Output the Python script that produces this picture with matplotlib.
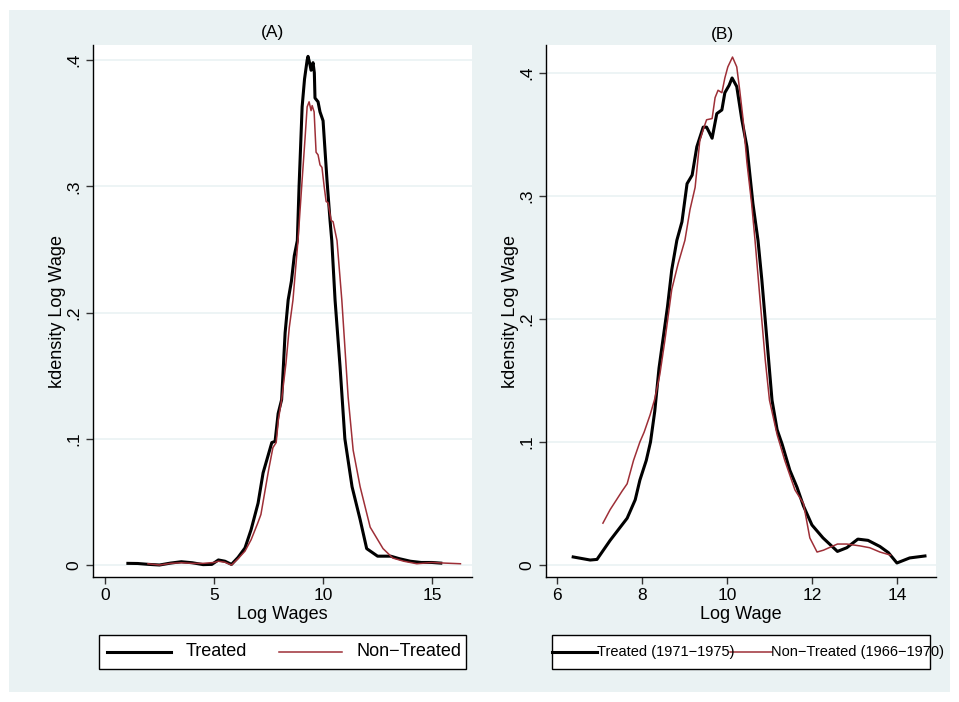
import matplotlib
matplotlib.use("Agg")
import matplotlib.pyplot as plt
from matplotlib.lines import Line2D
from matplotlib.patches import Rectangle

plt.rcParams['font.family'] = ['Liberation Sans', 'DejaVu Sans']

# ---------------- data ----------------
# Panel A: Log Wages densities
a_treated_x = [1.05, 1.5, 2.0, 2.5, 3.0, 3.5, 4.0, 4.5, 4.9, 5.2, 5.5, 5.8, 6.1, 6.42, 6.7,
               7.02, 7.25, 7.45, 7.65, 7.8, 7.94, 8.1, 8.26, 8.4, 8.55, 8.68, 8.82, 8.9,
               9.04, 9.15, 9.27, 9.31, 9.38, 9.45, 9.54, 9.6, 9.63, 9.77, 9.86, 10.0,
               10.18, 10.32, 10.4, 10.55, 10.78, 11.0, 11.33, 11.7, 12.0, 12.5, 13.1,
               13.5, 14.0, 14.5, 15.0, 15.4]
a_treated_y = [0.0013, 0.0012, 0.0005, 0.0, 0.0015, 0.0026, 0.0018, 0.0003, 0.0005, 0.004,
               0.003, 0.0005, 0.006, 0.0135, 0.028, 0.049, 0.073, 0.085, 0.097, 0.098,
               0.12, 0.131, 0.184, 0.21, 0.225, 0.245, 0.257, 0.3, 0.363, 0.385, 0.4,
               0.403, 0.398, 0.392, 0.398, 0.39, 0.37, 0.367, 0.359, 0.352, 0.305, 0.273,
               0.257, 0.21, 0.157, 0.1, 0.062, 0.036, 0.013, 0.007, 0.007, 0.005, 0.003,
               0.002, 0.002, 0.0015]

a_control_x = [1.97, 2.5, 3.0, 3.5, 4.0, 4.5, 5.0, 5.2, 5.5, 5.8, 6.1, 6.42, 6.7, 7.0, 7.15,
               7.3, 7.5, 7.7, 7.85, 7.95, 8.1, 8.3, 8.45, 8.62, 8.85, 9.04, 9.17, 9.27,
               9.36, 9.45, 9.5, 9.59, 9.68, 9.77, 9.86, 9.95, 10.05, 10.14, 10.23, 10.37,
               10.46, 10.64, 10.86, 11.15, 11.38, 11.7, 12.16, 12.75, 13.2, 13.7, 14.3,
               15.0, 15.6, 16.3]
a_control_y = [0.001, 0.0, 0.0013, 0.0018, 0.0013, 0.0013, 0.002, 0.003, 0.0022, 0.0,
               0.005, 0.011, 0.02, 0.033, 0.04, 0.055, 0.075, 0.093, 0.097, 0.115, 0.131,
               0.16, 0.188, 0.21, 0.257, 0.305, 0.337, 0.363, 0.367, 0.36, 0.364, 0.359,
               0.327, 0.325, 0.317, 0.315, 0.3, 0.288, 0.287, 0.273, 0.272, 0.257, 0.21,
               0.133, 0.091, 0.062, 0.03, 0.013, 0.0055, 0.003, 0.001, 0.002, 0.0015, 0.001]

# Panel B: Log Wage densities by cohort
b_treated_x = [6.38, 6.78, 6.94, 7.25, 7.65, 7.84, 7.95, 8.1, 8.2, 8.3, 8.4, 8.5, 8.6, 8.7,
               8.82, 8.94, 9.06, 9.18, 9.29, 9.44, 9.52, 9.58, 9.65, 9.76, 9.88, 9.95,
               10.05, 10.12, 10.23, 10.35, 10.47, 10.61, 10.73, 10.82, 10.96, 11.06, 11.18,
               11.3, 11.48, 11.65, 11.8, 12.0, 12.26, 12.6, 12.82, 13.08, 13.32, 13.6,
               13.8, 14.0, 14.3, 14.66]
b_treated_y = [0.0065, 0.004, 0.0045, 0.02, 0.038, 0.053, 0.069, 0.085, 0.1, 0.125, 0.16,
               0.185, 0.21, 0.24, 0.264, 0.279, 0.31, 0.317, 0.34, 0.356, 0.356, 0.352,
               0.347, 0.367, 0.37, 0.384, 0.39, 0.396, 0.389, 0.362, 0.34, 0.294, 0.264,
               0.232, 0.175, 0.134, 0.11, 0.098, 0.077, 0.063, 0.048, 0.0325, 0.022, 0.011,
               0.014, 0.021, 0.02, 0.015, 0.01, 0.0016, 0.0057, 0.0073]

b_control_x = [7.08, 7.25, 7.4, 7.53, 7.65, 7.8, 7.95, 8.05, 8.19, 8.3, 8.42, 8.54, 8.7,
               8.85, 9.01, 9.13, 9.25, 9.36, 9.45, 9.52, 9.65, 9.72, 9.79, 9.88, 9.95,
               10.02, 10.13, 10.23, 10.3, 10.38, 10.47, 10.58, 10.66, 10.78, 10.9, 11.0,
               11.18, 11.36, 11.6, 11.8, 11.95, 12.12, 12.27, 12.6, 12.82, 13.13, 13.36,
               13.6, 13.85]
b_control_y = [0.034, 0.045, 0.053, 0.06, 0.066, 0.085, 0.1, 0.108, 0.122, 0.135, 0.155,
               0.183, 0.224, 0.245, 0.264, 0.289, 0.307, 0.345, 0.355, 0.362, 0.363, 0.38,
               0.386, 0.384, 0.396, 0.405, 0.413, 0.405, 0.386, 0.362, 0.327, 0.294, 0.264,
               0.215, 0.167, 0.134, 0.106, 0.085, 0.061, 0.05, 0.022, 0.0105, 0.012, 0.017,
               0.017, 0.0155, 0.014, 0.0105, 0.008]

y_ticks = [0, 0.1, 0.2, 0.3, 0.4]
y_ticklabels = ["0", ".1", ".2", ".3", ".4"]
a_xticks = [0, 5, 10, 15]
b_xticks = [6, 8, 10, 12, 14]

a_labels = ["Treated", "Non\u2212Treated"]
b_labels = ["Treated (1971\u22121975)", "Non\u2212Treated (1966\u22121970)"]

# ---------------- style ----------------
W, H = 959, 702
BG = '#eaf2f3'
RED = '#9e2f37'
fig = plt.figure(figsize=(W / 100, H / 100), dpi=100, facecolor='white')

def fx(x):
    return x / W

def fy(y):
    return 1 - y / H

fig.add_artist(Rectangle((fx(9), fy(692)), fx(950) - fx(9), fy(10) - fy(692),
                         transform=fig.transFigure, facecolor=BG, edgecolor='none', zorder=-10))

def make_axes(x0, x1, y0, y1):
    return fig.add_axes([fx(x0), fy(y1), fx(x1) - fx(x0), fy(y0) - fy(y1)])

axA = make_axes(93, 472, 45, 577)
axB = make_axes(546, 936, 45, 577)

def style(ax, xticks, xlim, ylim, xlabel):
    ax.set_facecolor('white')
    for s in ['top', 'right']:
        ax.spines[s].set_visible(False)
    for s in ['left', 'bottom']:
        ax.spines[s].set_color('black')
        ax.spines[s].set_linewidth(1.0)
    ax.set_xlim(*xlim)
    ax.set_ylim(*ylim)
    ax.set_xticks(xticks)
    ax.set_xticklabels([str(t) for t in xticks], fontsize=12.5)
    ax.set_yticks(y_ticks)
    ax.set_yticklabels(y_ticklabels, fontsize=12.5, rotation=90, va='center')
    ax.tick_params(axis='both', direction='out', length=5, width=1, color='#333333')
    ax.tick_params(axis='x', pad=3)
    ax.tick_params(axis='y', pad=3.5)
    ax.yaxis.grid(True, color=BG, linewidth=1.2)
    ax.set_axisbelow(True)
    ax.set_xlabel(xlabel, fontsize=13, labelpad=2)
    ax.set_ylabel("kdensity Log Wage", fontsize=13, labelpad=0)

style(axA, a_xticks, (-0.55, 16.83), (-0.0095, 0.412), "Log Wages")
style(axB, b_xticks, (5.74, 14.92), (-0.0098, 0.4228), "Log Wage")

axA.plot(a_treated_x, a_treated_y, color='black', lw=2.2, zorder=3)
axA.plot(a_control_x, a_control_y, color=RED, lw=1.1, zorder=4)
axB.plot(b_treated_x, b_treated_y, color='black', lw=2.2, zorder=3)
axB.plot(b_control_x, b_control_y, color=RED, lw=1.1, zorder=4)

fig.text(fx(273), fy(32), "(A)", fontsize=12.5, ha='center', va='center')
fig.text(fx(722), fy(34), "(B)", fontsize=12.5, ha='center', va='center')

# ---------------- legends ----------------
def legend_box(x0, x1, y0, y1, entries, fontsize):
    fig.add_artist(Rectangle((fx(x0), fy(y1)), fx(x1) - fx(x0), fy(y0) - fy(y1),
                             transform=fig.transFigure, facecolor='white',
                             edgecolor='black', linewidth=1.0, zorder=5))
    yc = (y0 + y1) / 2
    for (lx0, lx1, tx, color, lw, label) in entries:
        fig.add_artist(Line2D([fx(lx0), fx(lx1)], [fy(yc), fy(yc)], color=color, lw=lw,
                              transform=fig.transFigure, zorder=6))
        fig.text(fx(tx), fy(yc), label, fontsize=fontsize, ha='left', va='center', zorder=7)

legend_box(99, 466, 635, 669,
           [(107, 171, 186, 'black', 2.2, a_labels[0]),
            (279, 342, 357, RED, 1.1, a_labels[1])], 13)
legend_box(552, 930, 635, 669,
           [(552, 597, 597, 'black', 2.2, b_labels[0]),
            (730, 772, 771, RED, 1.1, b_labels[1])], 10.5)

fig.savefig("out.png", dpi=100, facecolor='white')
